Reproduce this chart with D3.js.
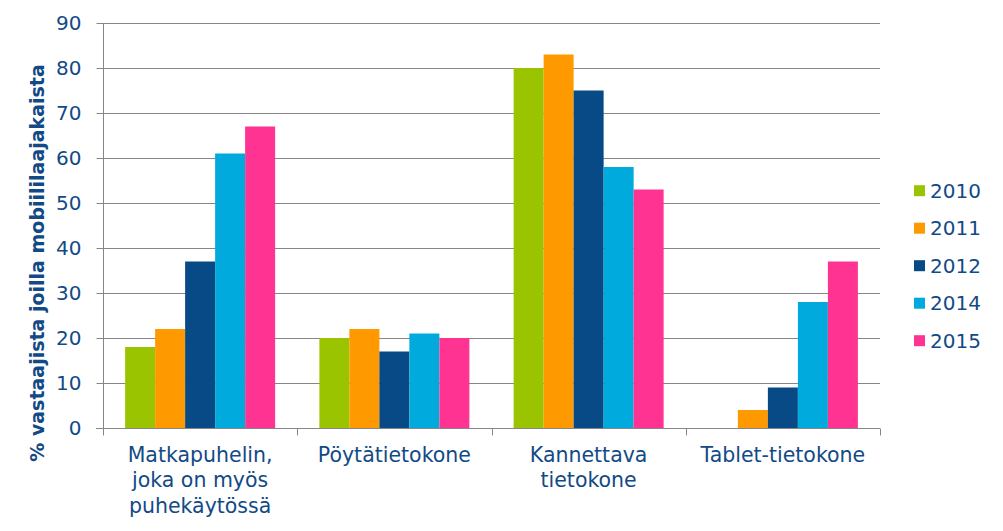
<!DOCTYPE html>
<html>
<head>
<meta charset="utf-8">
<script src="https://cdn.jsdelivr.net/npm/d3@7"></script>
<style>
  html, body { margin: 0; padding: 0; background: #ffffff; }
  svg { display: block; }
  text { font-family: "DejaVu Sans", Verdana, sans-serif; fill: #124A86; }
</style>
</head>
<body>
<svg id="chart" width="1003" height="531"></svg>
<script>
// ---- data ----
const categories = ["Matkapuhelin,\njoka on myös\npuhekäytössä", "Pöytätietokone", "Kannettava\ntietokone", "Tablet-tietokone"];
const series = ["2010", "2011", "2012", "2014", "2015"];
const values2010 = [18, 20, 80, 0];
const values2011 = [22, 22, 83, 4];
const values2012 = [37, 17, 75, 9];
const values2014 = [61, 21, 58, 28];
const values2015 = [67, 20, 53, 37];
const yTicks = [0, 10, 20, 30, 40, 50, 60, 70, 80, 90];
const colors = ["#9BC400", "#FF9900", "#074A86", "#00AADD", "#FF3392"];
const yTitle = "% vastaajista joilla mobiililaajakaista";

const seriesValues = [values2010, values2011, values2012, values2014, values2015];

// ---- layout ----
const svg = d3.select("#chart");
const plot = { left: 103, right: 880, top: 23, bottom: 428 };
const textColor = "#124A86";

const x0 = d3.scaleBand().domain(categories).range([plot.left, plot.right]).paddingInner(0).paddingOuter(0);
const x1 = d3.scaleBand().domain(series).range([0, x0.bandwidth()]).paddingInner(0).paddingOuter(0.7375);
const y = d3.scaleLinear().domain([0, 90]).range([plot.bottom, plot.top]);

const gridColor = "#868686";

// gridlines
svg.append("g")
  .selectAll("line")
  .data(yTicks.filter(d => d > 0))
  .join("line")
  .attr("x1", plot.left).attr("x2", plot.right)
  .attr("y1", d => Math.round(y(d)) + 0.5).attr("y2", d => Math.round(y(d)) + 0.5)
  .attr("stroke", gridColor).attr("stroke-width", 1);

// bars
const groups = svg.append("g")
  .selectAll("g")
  .data(categories)
  .join("g")
  .attr("transform", d => `translate(${x0(d)},0)`);

groups.selectAll("rect")
  .data((c, ci) => series.map((s, si) => ({ s, si, v: seriesValues[si][ci] })))
  .join("rect")
  .attr("x", d => x1(d.s))
  .attr("width", x1.bandwidth())
  .attr("y", d => y(d.v))
  .attr("height", d => y(0) - y(d.v))
  .attr("fill", d => colors[d.si]);

// y axis
const yAxis = d3.axisLeft(y).tickValues(yTicks).tickSize(7).tickPadding(15);
const yg = svg.append("g")
  .attr("transform", `translate(${plot.left + 0.5},0)`)
  .call(yAxis);
yg.select(".domain").attr("stroke", gridColor).attr("d", `M0,${plot.top}V${plot.bottom}`);
yg.selectAll(".tick line").attr("stroke", gridColor);
yg.selectAll(".tick text")
  .attr("font-size", 20)
  .attr("font-family", "DejaVu Sans, Verdana, sans-serif")
  .attr("fill", textColor);

// x axis (baseline + boundary ticks)
const xg = svg.append("g").attr("transform", `translate(0,${Math.round(y(0)) + 0.5})`);
xg.append("line")
  .attr("x1", plot.left - 7).attr("x2", plot.right)
  .attr("stroke", gridColor);
const boundaries = [plot.left].concat(categories.map(c => x0(c) + x0.bandwidth()));
xg.selectAll("line.bt")
  .data(boundaries)
  .join("line")
  .attr("class", "bt")
  .attr("x1", d => Math.round(d) + 0.5).attr("x2", d => Math.round(d) + 0.5)
  .attr("y1", 0).attr("y2", 7)
  .attr("stroke", gridColor);

// x labels
const xl = svg.append("g");
categories.forEach(c => {
  const lines = c.split("\n");
  const t = xl.append("text")
    .attr("text-anchor", "middle")
    .attr("font-size", 20.5)
    .attr("x", x0(c) + x0.bandwidth() / 2)
    .attr("y", 462);
  lines.forEach((ln, i) => {
    t.append("tspan")
      .attr("x", x0(c) + x0.bandwidth() / 2)
      .attr("y", 462 + i * 25.4)
      .text(ln);
  });
});

// y title
svg.append("text")
  .attr("transform", `translate(44,263) rotate(-90)`)
  .attr("text-anchor", "middle")
  .attr("font-size", 19)
  .attr("font-weight", "bold")
  .text(yTitle);

// legend
const legend = svg.append("g");
const legY = d3.scaleLinear().domain([0, series.length - 1]).range([190.7, 340.7]);
series.forEach((s, i) => {
  legend.append("rect")
    .attr("x", 914).attr("y", legY(i) - 5.5)
    .attr("width", 11).attr("height", 11)
    .attr("fill", colors[i]);
  legend.append("text")
    .attr("x", 930).attr("y", legY(i))
    .attr("dy", "0.36em")
    .attr("font-size", 20)
    .text(s);
});
</script>
</body>
</html>
